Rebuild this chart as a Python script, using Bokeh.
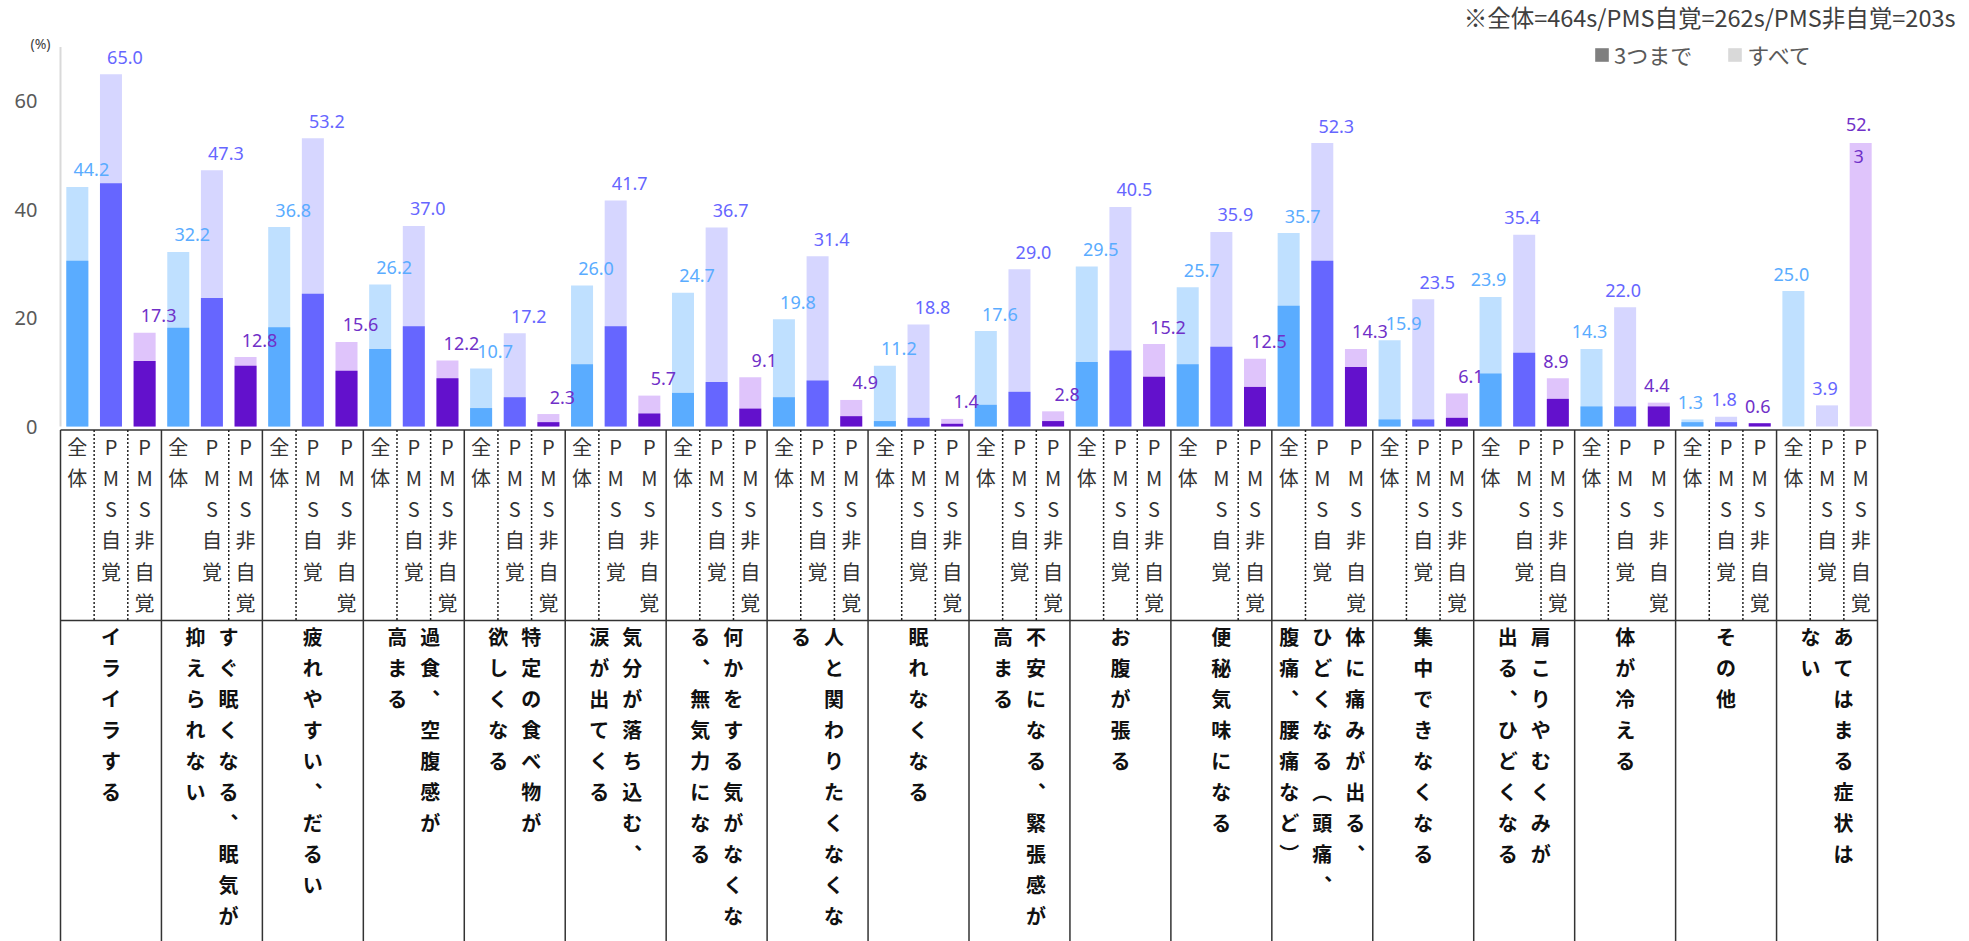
from bokeh.plotting import figure
from bokeh.models import Range1d, ColumnDataSource, Label, Legend, LegendItem
from bokeh.core.properties import value
from bokeh.embed import file_html
from bokeh.resources import INLINE

# ---------------- data ----------------
categories = [
    "イライラする",
    "すぐ眠くなる、眠気が\n抑えられない",
    "疲れやすい、だるい",
    "過食、空腹感が\n高まる",
    "特定の食べ物が\n欲しくなる",
    "気分が落ち込む、\n涙が出てくる",
    "何かをする気がなくな\nる、無気力になる",
    "人と関わりたくなくな\nる",
    "眠れなくなる",
    "不安になる、緊張感が\n高まる",
    "お腹が張る",
    "便秘気味になる",
    "体に痛みが出る、\nひどくなる（頭痛、\n腹痛、腰痛など）",
    "集中できなくなる",
    "肩こりやむくみが\n出る、ひどくなる",
    "体が冷える",
    "その他",
    "あてはまる症状は\nない",
]
groups = ["全体", "PMS自覚", "PMS非自覚"]

# すべて (all that apply)
all_total = [44.2, 32.2, 36.8, 26.2, 10.7, 26.0, 24.7, 19.8, 11.2, 17.6, 29.5, 25.7, 35.7, 15.9, 23.9, 14.3, 1.3, 25.0]
aware_total = [65.0, 47.3, 53.2, 37.0, 17.2, 41.7, 36.7, 31.4, 18.8, 29.0, 40.5, 35.9, 52.3, 23.5, 35.4, 22.0, 1.8, 3.9]
unaware_total = [17.3, 12.8, 15.6, 12.2, 2.3, 5.7, 9.1, 4.9, 1.4, 2.8, 15.2, 12.5, 14.3, 6.1, 8.9, 4.4, 0.6, 52.3]

# 3つまで (up to three)
all_top3 = [30.6, 18.2, 18.3, 14.3, 3.4, 11.5, 6.2, 5.4, 1.0, 4.0, 11.9, 11.5, 22.3, 1.3, 9.8, 3.7, 0.8, 0.0]
aware_top3 = [44.9, 23.7, 24.5, 18.5, 5.4, 18.5, 8.2, 8.5, 1.6, 6.4, 14.0, 14.7, 30.6, 1.3, 13.6, 3.7, 0.8, 0.0]
unaware_top3 = [12.1, 11.2, 10.3, 8.9, 0.8, 2.4, 3.3, 1.9, 0.5, 1.0, 9.2, 7.3, 11.0, 1.6, 5.1, 3.7, 0.6, 0.0]

legend_labels = ["3つまで", "すべて"]
note_text = "※全体=464s/PMS自覚=262s/PMS非自覚=203s"
unit_text = "(%)"
y_ticks = [0, 20, 40, 60]

# ---------------- styles / layout ----------------
W, H = 1969, 941
FRAME_L = 60          # where the value axis sits (px)
TABLE_R = 1877
N_BARS = len(categories) * len(groups)
PX_X = (TABLE_R - FRAME_L) / N_BARS
ZERO_PX = 426
PX_Y = 5.42
AXIS_TOP = 70

light_colors = ["#bfe0ff", "#d6d6ff", "#dfc4fb"]
dark_colors = ["#5aacff", "#6666ff", "#6311cc"]
label_colors = ["#5aacff", "#6666ff", "#7030c8"]
JP = "Noto Sans CJK JP"
LAT = "Noto Sans"
# inner dotted borders that are absent in the source table: (category, border)
MISSING_DOTS = {(1, 1), (2, 2), (5, 2), (11, 1), (12, 2), (14, 1), (15, 2)}

p = figure(width=W, height=H,
           x_range=Range1d(-FRAME_L / PX_X, (W - FRAME_L) / PX_X),
           y_range=Range1d(-(H - ZERO_PX) / PX_Y, ZERO_PX / PX_Y),
           output_backend="svg", toolbar_location=None,
           x_axis_location=None, y_axis_location=None,
           min_border_left=0, min_border_right=0,
           min_border_top=0, min_border_bottom=0)
p.extra_y_ranges = {"px": Range1d(H, 0)}
p.extra_x_ranges = {"px": Range1d(0, W)}
p.outline_line_color = None
p.grid.visible = False
p.background_fill_color = "white"
p.border_fill_color = "white"

# value axis: line + tick labels (drawn on the value scale)
p.segment(x0=[0], x1=[0], y0=[0], y1=[AXIS_TOP], line_color="#d9d9d9", line_width=2)
p.text(x=[37] * len(y_ticks), y=y_ticks, text=[str(t) for t in y_ticks],
       x_range_name="px", text_font=value(LAT), text_font_size="20px",
       text_color="#595959", text_align="right", text_baseline="middle")
p.text(x=[40], y=[AXIS_TOP], text=[unit_text], x_range_name="px", y_offset=[-4],
       text_font=value(LAT), text_font_size="14px", text_color="#404040",
       text_align="center", text_baseline="middle")

# ---------------- bars ----------------
totals = [all_total, aware_total, unaware_total]
top3s = [all_top3, aware_top3, unaware_top3]
xs, tot, t3, lc, dc, tc, txt, dx, dy = [], [], [], [], [], [], [], [], []
for c in range(len(categories)):
    for g in range(len(groups)):
        i = c * len(groups) + g
        xs.append(i + 0.5)
        v = totals[g][c]
        tot.append(v)
        t3.append(top3s[g][c])
        lc.append(light_colors[g])
        dc.append(dark_colors[g])
        tc.append(label_colors[g])
        s = f"{v:.1f}"
        last = (i == N_BARS - 1)
        if last:
            s = s[:3] + "\n" + s[3:]
        txt.append(s)
        dx.append(14 if c < 14 else -2)
        dy.append(-3 if last else -17)

src = ColumnDataSource(dict(x=xs, total=tot, top3=t3, light=lc, dark=dc,
                            lcol=tc, label=txt, dx=dx, dy=dy))
BAR_W = 22 / PX_X
p.vbar(x="x", top="total", bottom=0, width=BAR_W, fill_color="light",
       line_color=None, source=src)
p.vbar(x="x", top="top3", bottom=0, width=BAR_W, fill_color="dark",
       line_color=None, source=src)
p.text(x="x", y="total", text="label", text_color="lcol", x_offset="dx", y_offset="dy",
       text_font=value(LAT), text_font_size="18px", text_align="center",
       text_baseline="middle", text_line_height=1.3, source=src)

# ---------------- table under the chart ----------------
T_TOP, T_MID = 429.5, 620
ng = len(groups)
solid_x = [c * ng for c in range(len(categories) + 1)]
p.segment(x0=solid_x, x1=solid_x, y0=[T_TOP] * len(solid_x), y1=[H] * len(solid_x),
          y_range_name="px", line_color="#333333", line_width=1.5)
p.segment(x0=[0, 0], x1=[N_BARS, N_BARS], y0=[T_TOP, T_MID], y1=[T_TOP, T_MID],
          y_range_name="px", line_color="#333333", line_width=1.5)
dot_x = [c * ng + k for c in range(len(categories)) for k in range(1, ng)
         if (c, k) not in MISSING_DOTS]
p.segment(x0=dot_x, x1=dot_x, y0=[T_TOP] * len(dot_x), y1=[T_MID] * len(dot_x),
          y_range_name="px", line_color="#222222", line_width=1.5, line_dash="2 2")

# sub labels (vertical)
SUB_Y0, SUB_DY = 445.7, 31.2
sx, sy, st = [], [], []
for c in range(len(categories)):
    for g, name in enumerate(groups):
        for k, ch in enumerate(name):
            sx.append(c * ng + g + 0.5)
            sy.append(SUB_Y0 + k * SUB_DY)
            st.append(ch)
p.text(x=sx, y=sy, text=st, y_range_name="px", text_font=value(JP),
       text_font_size="20px", text_color="#333333", text_align="center",
       text_baseline="middle")

# category labels (vertical writing, columns right to left)
VERT = {"、": "︑", "（": "︵", "）": "︶"}
CAT_Y0, CAT_DY = 635.7, 31.0
COL_GAP = 33 / PX_X
cx, cy, ct = [], [], []
for c, name in enumerate(categories):
    cols = name.split("\n")
    n = len(cols)
    for j, col in enumerate(cols):
        xcol = c * ng + ng / 2 + ((n - 1) / 2 - j) * COL_GAP
        for k, ch in enumerate(col):
            cx.append(xcol)
            cy.append(CAT_Y0 + k * CAT_DY)
            ct.append(VERT.get(ch, ch))
p.text(x=cx, y=cy, text=ct, y_range_name="px", text_font=value(JP),
       text_font_size="20px", text_font_style="bold", text_color="#111111",
       text_align="center", text_baseline="middle")

# ---------------- legend & notes ----------------
r_dark = p.vbar(x=[0], top=[0], width=0.01, fill_color="#7f7f7f", line_color=None)
r_light = p.vbar(x=[0], top=[0], width=0.01, fill_color="#d9d9d9", line_color=None)
legend = Legend(items=[LegendItem(label=legend_labels[0], renderers=[r_dark]),
                       LegendItem(label=legend_labels[1], renderers=[r_light])],
                orientation="horizontal", location=(1593, H - 70),
                label_text_font=JP, label_text_font_size="22px",
                label_text_color="#595959", glyph_width=17, glyph_height=17,
                label_standoff=4, spacing=34, padding=0, margin=0,
                border_line_color=None, background_fill_alpha=0)
p.add_layout(legend)

p.add_layout(Label(x=1955, y=16, x_range_name="px", y_range_name="px", text=note_text,
                   text_align="right", text_baseline="middle", text_font=JP,
                   text_font_size="23.5px", text_color="#404040"))

open("out.html", "w").write(file_html(p, INLINE))
